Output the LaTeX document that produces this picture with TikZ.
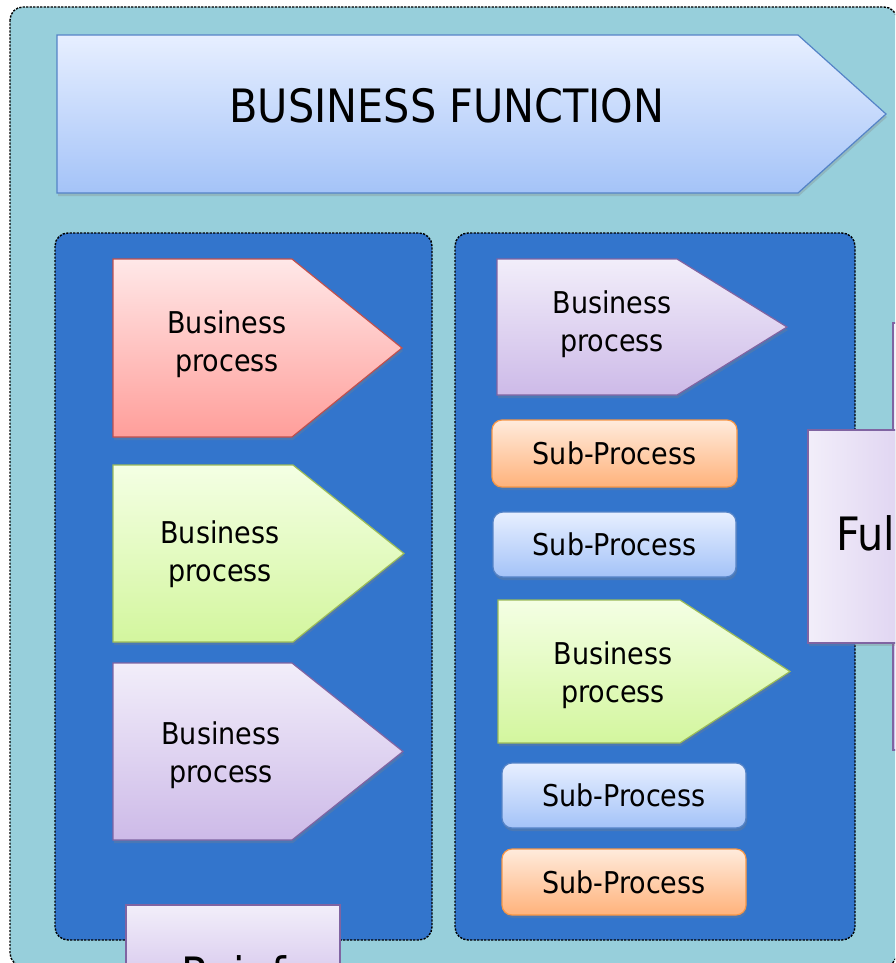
\documentclass[tikz,border=0pt]{standalone}
\usepackage{fontspec}
\setmainfont{DejaVu Sans Condensed}
\usetikzlibrary{positioning,shadows}

\definecolor{sheetcol}{RGB}{151,207,219}
\definecolor{lanecol}{RGB}{51,117,204}
\definecolor{bluetop}{RGB}{231,239,255}
\definecolor{bluebot}{RGB}{164,195,248}
\definecolor{blueline}{RGB}{84,131,199}
\definecolor{redtop}{RGB}{255,232,232}
\definecolor{redbot}{RGB}{255,158,154}
\definecolor{redline}{RGB}{192,80,77}
\definecolor{greentop}{RGB}{244,255,228}
\definecolor{greenbot}{RGB}{211,246,158}
\definecolor{greenline}{RGB}{155,187,89}
\definecolor{purpletop}{RGB}{242,238,250}
\definecolor{purplebot}{RGB}{205,186,232}
\definecolor{purpleline}{RGB}{128,100,162}
\definecolor{orangetop}{RGB}{255,235,220}
\definecolor{orangebot}{RGB}{255,178,123}
\definecolor{orangeline}{RGB}{247,150,70}

\tikzset{
  shade/.style={drop shadow={shadow xshift=1pt, shadow yshift=-3pt, opacity=0.3}},
  bluebox/.style={top color=bluetop, bottom color=bluebot, draw=blueline, line width=1.2pt},
  redbox/.style={top color=redtop, bottom color=redbot, draw=redline, line width=1.2pt},
  greenbox/.style={top color=greentop, bottom color=greenbot, draw=greenline, line width=1.2pt},
  purplebox/.style={top color=purpletop, bottom color=purplebot, draw=purpleline, line width=1.2pt},
  orangebox/.style={top color=orangetop, bottom color=orangebot, draw=orangeline, line width=1.2pt},
  dashframe/.style={draw=black, dash pattern=on 2.2pt off 1.3pt, line width=1.4pt},
  proctext/.style={align=center, inner sep=0pt, font=\fontsize{30}{38}\selectfont},
  bigtext/.style={inner sep=0pt, font=\fontsize{46}{50}\selectfont},
  subproc/.style={rounded corners=10pt, minimum width=244pt, minimum height=65pt,
    inner sep=0pt, font=\fontsize{30}{36}\selectfont, shade},
}

% pentagon arrow: look, left, top, shoulder, tip, bottom
\newcommand{\procarrow}[6]{%
  \path[#1, shade] (#2,#3) -- (#4,#3) -- (#5,{(#3+#6)/2}) -- (#4,#6) -- (#2,#6) -- cycle;}

\begin{document}
\begin{tikzpicture}[x=1pt, y=-1pt]
  \useasboundingbox (0,0) rectangle (895,963);
  \clip (0,0) rectangle (895,963);
  \fill[white] (0,0) rectangle (895,963);

  % outer sheet
  \path[dashframe, fill=sheetcol, rounded corners=13pt] (10,7) rectangle (897,966);

  % business function banner
  \procarrow{bluebox}{57}{35}{798}{886}{193}
  \node[bigtext] (func) at (447,106) {BUSINESS FUNCTION};

  % lanes
  \path[dashframe, fill=lanecol, rounded corners=13pt] (55,233) rectangle (432,940);
  \path[dashframe, fill=lanecol, rounded corners=13pt] (455,233) rectangle (855,940);

  % left lane
  \procarrow{redbox}{113}{259}{292}{402}{437}
  \node[proctext] (bpred) at (227,344) {Business\\process};
  \procarrow{greenbox}{113}{465}{293}{404}{642}
  \node[proctext] (bpgreen) at (220,554) {Business\\process};
  \procarrow{purplebox}{113}{663}{292}{403}{840}
  \node[proctext] (bppurple) at (221,755) {Business\\process};

  % right lane
  \procarrow{purplebox}{497}{259}{677}{787}{395}
  \node[proctext] (bpright) at (612,324) {Business\\process};
  \node[subproc, orangebox, minimum width=245pt, minimum height=67pt] (subone) at (614.5,453.5) {Sub-Process};
  \node[subproc, bluebox, minimum width=243pt] (subtwo) at (614.5,544.5) {Sub-Process};
  \procarrow{greenbox}{498}{600}{680}{790}{743}
  \node[proctext] (bpgreenr) at (613,675) {Business\\process};
  \node[subproc, bluebox] (subthree) at (624,795.5) {Sub-Process};
  \node[subproc, orangebox, minimum height=66pt] (subfour) at (624,882) {Sub-Process};

  % cut-off boxes at the edges
  \path[purplebox] (893,323) rectangle (1000,750);
  \path[line width=1.2pt, left color=purpletop, right color=purplebot, draw=purpleline, shade] (808,430) rectangle (1000,643);
  \node[bigtext, anchor=base west] (fulfil) at (836,550) {Ful};
  \path[purplebox, shade] (126,905) rectangle (340,1010);
  \node[bigtext, anchor=base west] (reinf) at (181,990) {Reinf};
\end{tikzpicture}
\end{document}
